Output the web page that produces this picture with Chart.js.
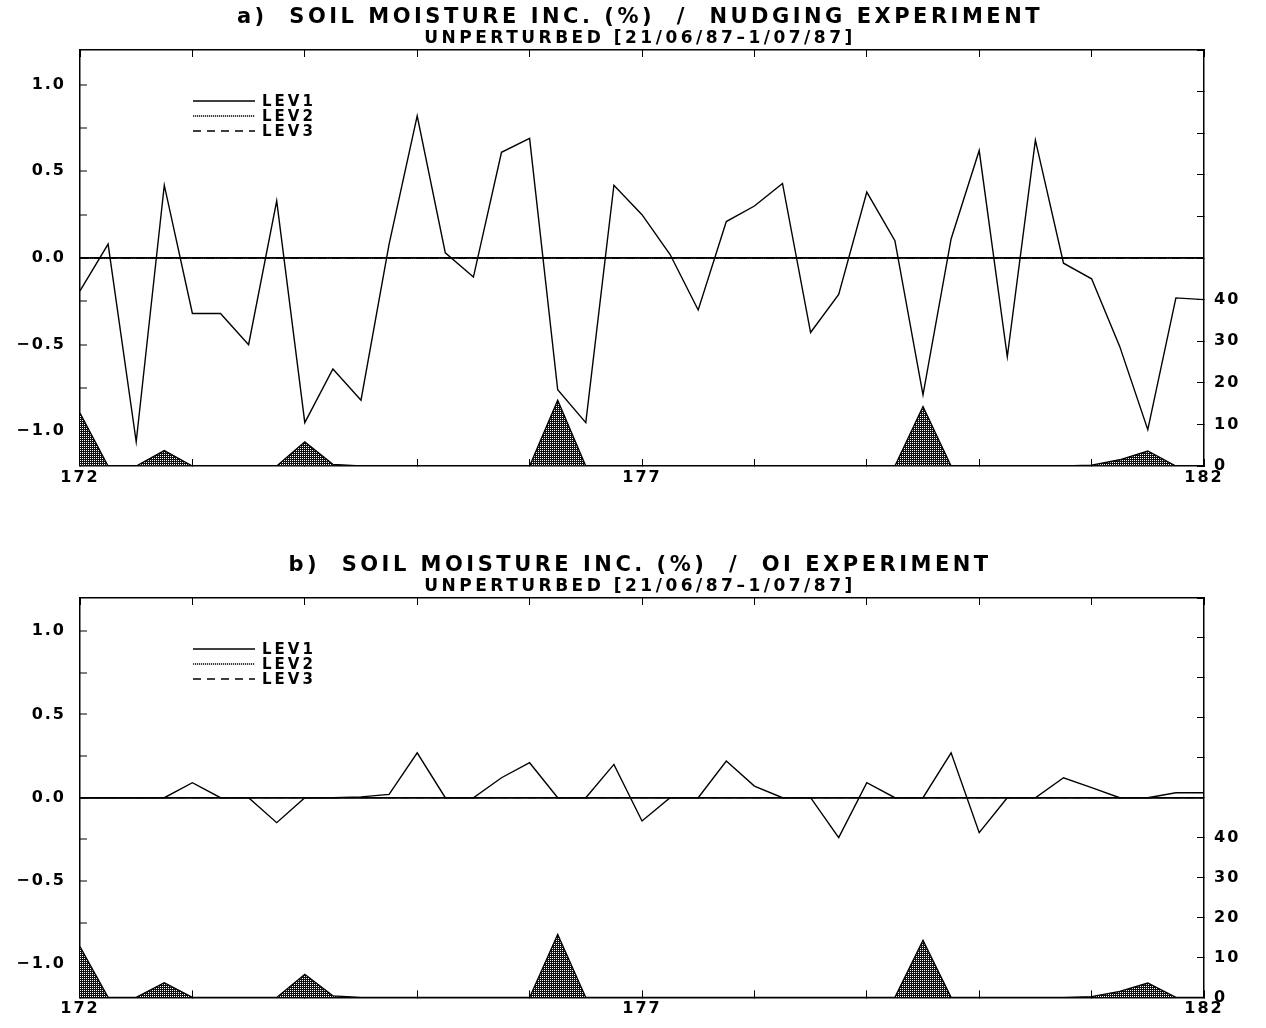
<!DOCTYPE html>
<html>
<head>
<meta charset="utf-8">
<title>Soil moisture increments</title>
<script src="https://cdn.jsdelivr.net/npm/chart.js@4.4.1/dist/chart.umd.min.js"></script>
<style>
  body { margin: 0; background: #fff; }
  canvas { display: block; }
</style>
</head>
<body>
<canvas id="chartA" width="1266" height="548"></canvas>
<canvas id="chartB" width="1266" height="480"></canvas>
<script>
// julian day axis, one value every 6 hours
const firstDay = 172;
const lastDay = 182;
const stepsPerDay = 4;
const dayLabels = [172, 177, 182];

// left axis (%), right axis for the shaded series
const leftLabels = [-1.0, -0.5, 0.0, 0.5, 1.0];
const rightLabels = [0, 10, 20, 30, 40];

const lev1Nudging = [-0.19, 0.08, -1.06, 0.42, -0.32, -0.32, -0.50, 0.33, -0.95, -0.64,
  -0.82, 0.08, 0.82, 0.03, -0.11, 0.61, 0.69, -0.76, -0.95, 0.42,
  0.25, 0.02, -0.30, 0.21, 0.30, 0.43, -0.43, -0.21, 0.38, 0.10,
  -0.79, 0.11, 0.62, -0.57, 0.68, -0.03, -0.12, -0.51, -0.99, -0.23, -0.24];

const lev1OI = [0, 0, 0, 0, 0.09, 0, 0, -0.15, 0, 0,
  0.005, 0.02, 0.27, 0, 0, 0.12, 0.21, 0, 0, 0.20,
  -0.14, 0, 0, 0.22, 0.07, 0, 0, -0.24, 0.09, 0,
  0, 0.27, -0.21, 0, 0, 0.12, 0.06, 0, 0, 0.03, 0.03];

// LEV2 and LEV3 stay on the zero line in both runs
const lev2 = [0, 0, 0, 0, 0, 0, 0, 0, 0, 0, 0, 0, 0, 0, 0, 0, 0, 0, 0, 0, 0,
  0, 0, 0, 0, 0, 0, 0, 0, 0, 0, 0, 0, 0, 0, 0, 0, 0, 0, 0, 0];
const lev3 = [0, 0, 0, 0, 0, 0, 0, 0, 0, 0, 0, 0, 0, 0, 0, 0, 0, 0, 0, 0, 0,
  0, 0, 0, 0, 0, 0, 0, 0, 0, 0, 0, 0, 0, 0, 0, 0, 0, 0, 0, 0];

// shaded series (right axis)
const rain = [12.7, 0, 0, 3.7, 0, 0, 0, 0, 5.8, 0.4,
  0, 0, 0, 0, 0, 0, 0, 15.8, 0, 0,
  0, 0, 0, 0, 0, 0, 0, 0, 0, 0,
  14.3, 0, 0, 0, 0, 0, 0.2, 1.5, 3.6, 0, 0];

const FONT = '"DejaVu Sans", sans-serif';
Chart.defaults.font.family = FONT;
Chart.defaults.color = '#000';

const toPoints = vals => vals.map((v, i) => ({ x: firstDay + i / stepsPerDay, y: v }));
const fmtLeft = v => (v === 0 ? '0.0' : v.toFixed(1).replace('-', '\u2212'));

// dark dotted fill like the scanned shading
function stipple(ctx) {
  const c = document.createElement('canvas');
  c.width = 2;
  c.height = 2;
  const g = c.getContext('2d');
  g.fillStyle = '#111';
  g.fillRect(0, 0, 2, 2);
  g.fillStyle = '#fff';
  g.fillRect(0, 0, 1, 1);
  return ctx.createPattern(c, 'repeat');
}

// wide lettering like the original plot: titles first, tick labels after the datasets
const wideText = {
  id: 'wideText',
  beforeDraw(chart) { chart.ctx.letterSpacing = '3.5px'; },
  afterDatasetsDraw(chart) { chart.ctx.letterSpacing = '2px'; }
};

// line key inside the plot
const levKey = {
  id: 'levKey',
  afterDraw(chart) {
    const { ctx, chartArea } = chart;
    ctx.save();
    ctx.letterSpacing = '3px';
    ctx.font = 'bold 15px ' + FONT;
    ctx.fillStyle = '#000';
    ctx.strokeStyle = '#000';
    ctx.textBaseline = 'middle';
    chart.data.datasets.filter(ds => ds.inKey).forEach((ds, i) => {
      const y = chartArea.top + 51 + i * 15;
      const x0 = chartArea.left + 113;
      ctx.lineWidth = 1.3;
      ctx.setLineDash(ds.borderDash || []);
      ctx.beginPath();
      ctx.moveTo(x0, y);
      ctx.lineTo(x0 + 62, y);
      ctx.stroke();
      ctx.setLineDash([]);
      ctx.fillText(ds.label, x0 + 69, y + 1);
    });
    ctx.restore();
  }
};

function lineSet(label, values, dash, width) {
  return {
    label: label,
    data: toPoints(values),
    yAxisID: 'y',
    borderColor: '#000',
    borderWidth: width,
    borderDash: dash,
    pointRadius: 0,
    tension: 0,
    fill: false,
    inKey: true
  };
}

function makePanel(id, title, lev1, plotBottom) {
  const canvas = document.getElementById(id);
  const ctx = canvas.getContext('2d');
  const tickFont = { family: FONT, size: 16, weight: 'bold' };
  const markGrid = { drawOnChartArea: false, tickLength: -7, color: '#000', lineWidth: 1 };
  const frame = { color: '#000', width: 1.5 };

  return new Chart(ctx, {
    type: 'line',
    data: {
      datasets: [
        lineSet('LEV1', lev1, [], 1.4),
        lineSet('LEV2', lev2, [1.2, 0.8], 1.3),
        lineSet('LEV3', lev3, [8, 6], 1.3),
        {
          label: 'shaded',
          data: toPoints(rain),
          yAxisID: 'y1',
          borderColor: '#000',
          borderWidth: 1.3,
          backgroundColor: stipple(ctx),
          fill: 'origin',
          pointRadius: 0,
          tension: 0
        }
      ]
    },
    options: {
      responsive: false,
      animation: false,
      events: [],
      layout: { padding: { left: 14 } },
      plugins: {
        legend: { display: false },
        tooltip: { enabled: false },
        title: {
          display: true,
          text: title,
          color: '#000',
          font: { family: FONT, size: 21, weight: 'bold', lineHeight: 1 },
          padding: { top: 7, bottom: 2 }
        },
        subtitle: {
          display: true,
          text: 'UNPERTURBED [21/06/87\u20131/07/87]',
          color: '#000',
          font: { family: FONT, size: 17, weight: 'bold', lineHeight: 1 },
          padding: { top: 0, bottom: 3 }
        }
      },
      scales: {
        x: {
          type: 'linear',
          position: 'bottom',
          min: firstDay,
          max: lastDay,
          ticks: {
            stepSize: 1, autoSkip: false, maxRotation: 0, padding: 9, z: 1,
            font: tickFont, color: '#000',
            callback: v => (dayLabels.includes(v) ? String(v) : '')
          },
          grid: markGrid,
          border: frame,
          afterFit: s => { s.height = canvas.height - plotBottom; }
        },
        xTop: {
          type: 'linear',
          position: 'top',
          min: firstDay,
          max: lastDay,
          ticks: { stepSize: 1, autoSkip: false, maxRotation: 0, z: 1, callback: () => '' },
          grid: markGrid,
          border: frame,
          afterFit: s => { s.height = 0; }
        },
        y: {
          position: 'left',
          min: -1.2,
          max: 1.2,
          ticks: {
            stepSize: 0.25, includeBounds: false, padding: 21, z: 1,
            font: tickFont, color: '#000',
            callback: v => (leftLabels.includes(v) ? fmtLeft(v) : '')
          },
          // solid zero line across the plot, short tick marks elsewhere
          grid: {
            drawOnChartArea: true,
            tickLength: -7,
            tickColor: '#000',
            tickWidth: 1,
            color: c => (c.tick && c.tick.value === 0 ? '#000' : 'rgba(0,0,0,0)'),
            lineWidth: c => (c.tick && c.tick.value === 0 ? 1.8 : 0)
          },
          border: frame,
          afterFit: s => { s.width = 66; }
        },
        y1: {
          position: 'right',
          min: 0,
          max: 100,
          ticks: {
            stepSize: 5, includeBounds: false, padding: 17, z: 1,
            font: tickFont, color: '#000',
            callback: v => (rightLabels.includes(v) ? String(v) : '')
          },
          grid: markGrid,
          border: frame,
          afterFit: s => { s.width = 62; }
        }
      }
    },
    plugins: [wideText, levKey]
  });
}

makePanel('chartA', 'a)  SOIL MOISTURE INC. (%)  /  NUDGING EXPERIMENT', lev1Nudging, 466);
makePanel('chartB', 'b)  SOIL MOISTURE INC. (%)  /  OI EXPERIMENT', lev1OI, 460);
</script>
</body>
</html>
